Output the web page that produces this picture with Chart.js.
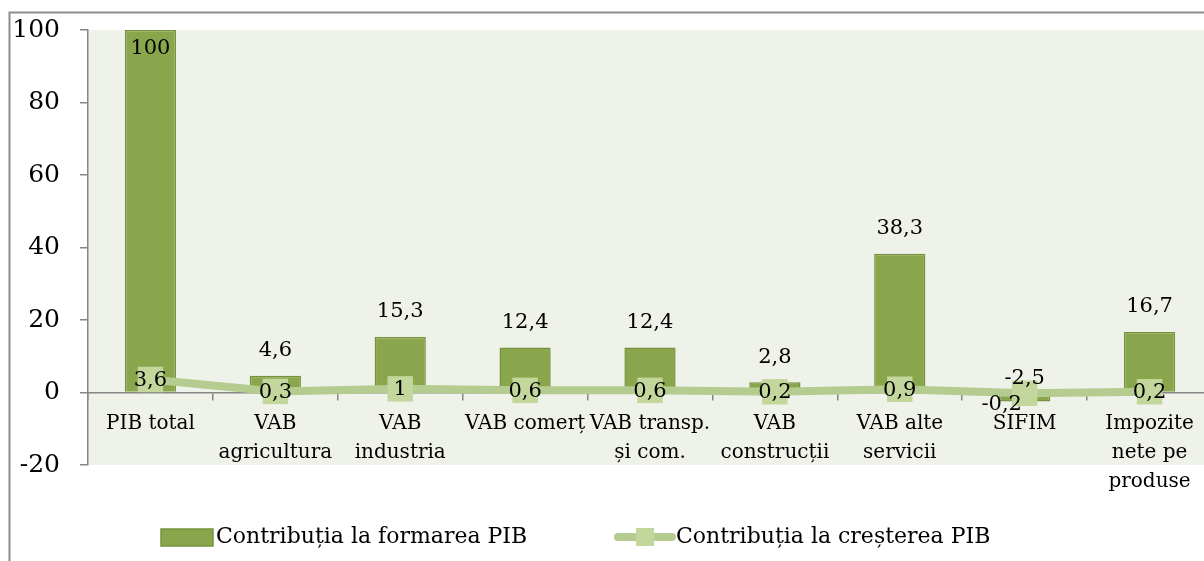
<!DOCTYPE html>
<html>
<head>
<meta charset="utf-8">
<script src="https://cdn.jsdelivr.net/npm/chart.js@4"></script>
<style>
  html, body { margin: 0; padding: 0; background: #fff; }
  #wrap { width: 1204px; height: 561px; overflow: hidden; position: relative; }
  #box { position: absolute; left: 0; top: -5px; width: 1230px; height: 566px; }
</style>
</head>
<body>
<div id="wrap"><div id="box"><canvas id="chart"></canvas></div></div>
<script>
'use strict';

// ── Data ──────────────────────────────────────────────────────────────────────

const categories = [
  'PIB total',
  ['VAB', 'agricultura'],
  ['VAB', 'industria'],
  'VAB comerț',
  ['VAB transp.', 'și com.'],
  ['VAB', 'construcții'],
  ['VAB alte', 'servicii'],
  'SIFIM',
  ['Impozite', 'nete pe', 'produse']
];
const formareValues = [100, 4.6, 15.3, 12.4, 12.4, 2.8, 38.3, -2.5, 16.7];
const crestereValues = [3.6, 0.3, 1, 0.6, 0.6, 0.2, 0.9, -0.2, 0.2];
const yTicks = [-20, 0, 20, 40, 60, 80, 100];
const seriesNames = ['Contribuția la formarea PIB', 'Contribuția la creșterea PIB'];

// ── Style ─────────────────────────────────────────────────────────────────────

const FONT = '"DejaVu Serif", serif';
const BAR_FILL = '#8aa64d';
const BAR_EDGE = '#76923c';
const LINE_COLOR = '#b4cc8f';
const MARK_COLOR = '#c3d69b';
const AXIS_GRAY = '#868686';
const PLOT_BG = '#eff2e9';
const SHIFT = 5; // canvas sits 5px above the page top

const fmt = v => String(v).replace('.', ',');

// ── Plugins ───────────────────────────────────────────────────────────────────

const frame = {
  id: 'frame',
  beforeDraw(chart) {
    const { ctx, chartArea: a } = chart;
    ctx.save();
    ctx.fillStyle = PLOT_BG;
    ctx.fillRect(a.left, a.top, a.right - a.left, a.bottom - a.top);
    ctx.strokeStyle = '#8c8c8c';
    ctx.lineWidth = 2;
    ctx.beginPath();
    ctx.moveTo(9.5, chart.height + 5);
    ctx.lineTo(9.5, 12.5 + SHIFT);
    ctx.lineTo(chart.width + 5, 12.5 + SHIFT);
    ctx.stroke();
    ctx.restore();
  }
};

const valueLabels = {
  id: 'valueLabels',
  afterDatasetsDraw(chart) {
    const { ctx, chartArea: a } = chart;
    const zeroY = chart.scales.y.getPixelForValue(0);
    ctx.save();
    ctx.font = '21px ' + FONT;
    ctx.fillStyle = '#000';
    ctx.textAlign = 'center';
    ctx.textBaseline = 'middle';

    chart.getDatasetMeta(1).data.forEach((bar, i) => {
      const v = formareValues[i];
      let y;
      if (v < 0) y = zeroY - 14;
      else {
        y = bar.y - 25;
        if (y < a.top + 10) y = bar.y + 19;
      }
      ctx.fillText(fmt(v), bar.x, y);
    });

    chart.getDatasetMeta(0).data.forEach((pt, i) => {
      const v = crestereValues[i];
      const dx = v < 0 ? -23 : 0;
      const dy = v < 0 ? 11 : 1;
      ctx.fillText(fmt(v), pt.x + dx, pt.y + dy);
    });
    ctx.restore();
  }
};

const legendBox = {
  id: 'legendBox',
  afterDraw(chart) {
    const { ctx } = chart;
    const cy = 537 + SHIFT;
    ctx.save();
    ctx.font = '22px ' + FONT;
    ctx.fillStyle = '#000';
    ctx.textBaseline = 'middle';
    ctx.textAlign = 'left';

    ctx.fillStyle = BAR_FILL;
    ctx.fillRect(161, cy - 8, 52, 17);
    ctx.strokeStyle = BAR_EDGE;
    ctx.lineWidth = 1.5;
    ctx.strokeRect(161, cy - 8, 52, 17);
    ctx.fillStyle = '#000';
    ctx.fillText(seriesNames[0], 216, cy);

    ctx.strokeStyle = LINE_COLOR;
    ctx.lineWidth = 8;
    ctx.lineCap = 'round';
    ctx.beginPath();
    ctx.moveTo(618, cy);
    ctx.lineTo(672, cy);
    ctx.stroke();
    ctx.fillStyle = MARK_COLOR;
    ctx.fillRect(636, cy - 9, 18, 18);
    ctx.fillStyle = '#000';
    ctx.fillText(seriesNames[1], 676, cy);
    ctx.restore();
  }
};

// ── Chart ─────────────────────────────────────────────────────────────────────

new Chart(document.getElementById('chart'), {
  data: {
    labels: categories,
    datasets: [
      {
        type: 'line',
        label: seriesNames[1],
        data: crestereValues,
        order: 0,
        borderColor: LINE_COLOR,
        borderWidth: 8,
        tension: 0,
        pointStyle: 'rect',
        pointRadius: 18,
        pointHoverRadius: 18,
        pointBackgroundColor: MARK_COLOR,
        pointBorderWidth: 0
      },
      {
        type: 'bar',
        label: seriesNames[0],
        data: formareValues,
        order: 1,
        backgroundColor: BAR_FILL,
        borderColor: BAR_EDGE,
        borderWidth: 1.5,
        barPercentage: 0.41,
        categoryPercentage: 1
      }
    ]
  },
  options: {
    responsive: true,
    maintainAspectRatio: false,
    animation: false,
    events: [],
    layout: { padding: { left: 0, right: 17, top: 24, bottom: 96 } },
    plugins: {
      legend: { display: false },
      tooltip: { enabled: false }
    },
    scales: {
      x: {
        position: { y: 0 },
        offset: true,
        grid: { offset: true, drawOnChartArea: false, drawTicks: true, tickLength: 7, color: AXIS_GRAY, lineWidth: 1.5 },
        border: { display: true, color: AXIS_GRAY, width: 1.5 },
        ticks: {
          autoSkip: false,
          maxRotation: 0,
          minRotation: 0,
          padding: 10,
          color: '#000',
          font: { family: FONT, size: 20, lineHeight: 1.45 }
        }
      },
      y: {
        min: -20,
        max: 100,
        afterFit(scale) { scale.width = 88; },
        afterBuildTicks(scale) { scale.ticks = yTicks.map(v => ({ value: v })); },
        grid: { drawOnChartArea: false, drawTicks: true, tickLength: 8, color: AXIS_GRAY, lineWidth: 1.5 },
        border: { display: true, color: AXIS_GRAY, width: 1.5 },
        ticks: {
          padding: 20,
          color: '#000',
          font: { family: FONT, size: 25 }
        }
      }
    }
  },
  plugins: [frame, valueLabels, legendBox]
});
</script>
</body>
</html>
